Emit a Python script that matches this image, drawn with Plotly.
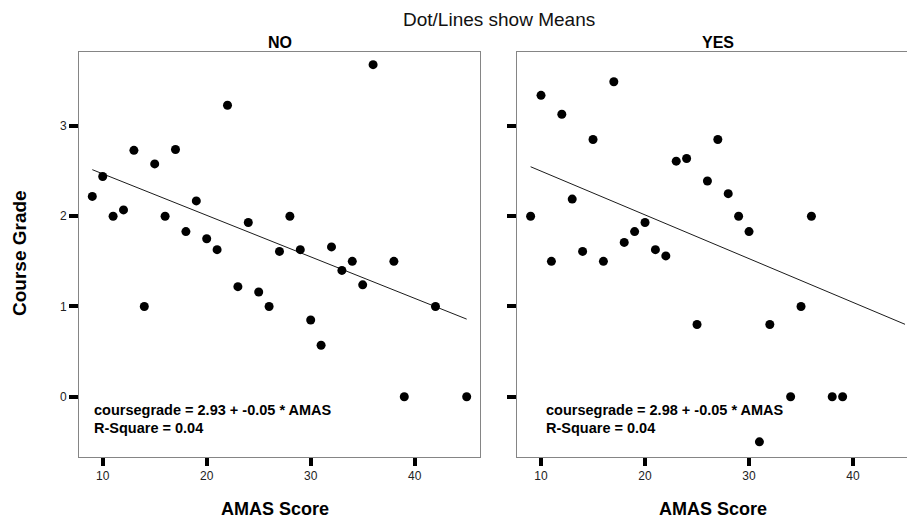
import plotly.graph_objects as go

# ---- data ----
panels = ["NO", "YES"]

no_amas = [9, 10, 11, 12, 13, 14, 15, 16, 17, 18, 19, 20, 21, 22, 23, 24, 25, 26,
           27, 28, 29, 30, 31, 32, 33, 34, 35, 36, 38, 39, 42, 45]
no_grade = [2.22, 2.44, 2.0, 2.07, 2.73, 1.0, 2.58, 2.0, 2.74, 1.83, 2.17, 1.75, 1.63,
            3.23, 1.22, 1.93, 1.16, 1.0, 1.61, 2.0, 1.63, 0.85, 0.57, 1.66, 1.40, 1.50,
            1.24, 3.68, 1.50, 0.0, 1.0, 0.0]

yes_amas = [9, 10, 11, 12, 13, 14, 15, 16, 17, 18, 19, 20, 21, 22, 23, 24, 25, 26,
            27, 28, 29, 30, 31, 32, 34, 35, 36, 38, 39]
yes_grade = [2.0, 3.34, 1.50, 3.13, 2.19, 1.61, 2.85, 1.50, 3.49, 1.71, 1.83, 1.93, 1.63,
             1.56, 2.61, 2.64, 0.80, 2.39, 2.85, 2.25, 2.0, 1.83, -0.50, 0.80, 0.0, 1.0,
             2.0, 0.0, 0.0]

fit_intercept = [2.93, 2.985]
fit_slope = [-0.046, -0.0485]
fit_x_range = [9, 45]
equation_labels = ["coursegrade = 2.93 + -0.05 * AMAS", "coursegrade = 2.98 + -0.05 * AMAS"]
rsq_labels = ["R-Square = 0.04", "R-Square = 0.04"]

y_ticks = [0, 1, 2, 3]
x_ticks = [10, 20, 30, 40]

# ---- figure ----
W, H = 907, 521
FONT = "Arial, Liberation Sans, sans-serif"

fig = go.Figure()

xs = [no_amas, yes_amas]
ys = [no_grade, yes_grade]
for i in range(2):
    xa = "x" if i == 0 else "x2"
    ya = "y" if i == 0 else "y2"
    lx = fit_x_range
    ly = [fit_intercept[i] + fit_slope[i] * v for v in lx]
    fig.add_trace(go.Scatter(
        x=lx, y=ly, mode="lines", xaxis=xa, yaxis=ya,
        line=dict(color="black", width=0.9),
        showlegend=False, hoverinfo="skip"))
    fig.add_trace(go.Scatter(
        x=xs[i], y=ys[i], mode="markers", xaxis=xa, yaxis=ya,
        marker=dict(color="black", size=9, line=dict(width=0)),
        showlegend=False, hoverinfo="x+y"))

ydom = [1 - 457 / H, 1 - 52 / H]
yrange = [-0.668, 3.82]

common_x = dict(showgrid=False, zeroline=False, showline=True, linecolor="#858585",
                linewidth=1, mirror=True, ticks="outside", ticklen=8, tickwidth=3.5,
                tickcolor="black", tickvals=x_ticks,
                tickfont=dict(family=FONT, size=12, color="#222"))
common_y = dict(showgrid=False, zeroline=False, showline=True, linecolor="#858585",
                linewidth=1, ticks="outside", ticklen=9, tickwidth=3.5,
                tickcolor="black", tickvals=y_ticks, range=yrange, domain=ydom,
                tickfont=dict(family=FONT, size=12, color="#222"))

fig.update_layout(
    width=W, height=H,
    margin=dict(l=0, r=0, t=0, b=0),
    paper_bgcolor="white", plot_bgcolor="white",
    font=dict(family=FONT, color="black"),
    xaxis=dict(common_x, domain=[79 / W, 480.3 / W], range=[7.72, 46.31], anchor="y"),
    yaxis=dict(common_y, mirror=True, anchor="x"),
    xaxis2=dict(common_x, domain=[517 / W, 1.0], range=[7.69, 45.19], anchor="y2"),
    yaxis2=dict(common_y, mirror=False, showticklabels=False, anchor="x2"),
)

annotations = [
    dict(text="Dot/Lines show Means", x=498.5 / W, y=1 - 20 / H, xref="paper", yref="paper",
         showarrow=False, font=dict(size=19, family=FONT, color="#111"),
         xanchor="center", yanchor="middle"),
    dict(text="<b>Course Grade</b>", x=20 / W, y=1 - 253 / H, xref="paper", yref="paper",
         showarrow=False, textangle=-90, font=dict(size=19, family=FONT),
         xanchor="center", yanchor="middle"),
]
panel_title_x = [279.8, 717.8]
xaxis_title_centers = [274.5, 712.8]
eq_x = [92, 544]
for i in range(2):
    annotations.append(dict(text="<b>%s</b>" % panels[i], x=panel_title_x[i] / W,
                            y=1 - 43 / H, xref="paper", yref="paper", showarrow=False,
                            font=dict(size=16, family=FONT), xanchor="center", yanchor="middle"))
    annotations.append(dict(text="<b>AMAS Score</b>", x=xaxis_title_centers[i] / W,
                            y=1 - 509 / H, xref="paper", yref="paper", showarrow=False,
                            font=dict(size=18, family=FONT), xanchor="center", yanchor="middle"))
    annotations.append(dict(text="<b>%s</b>" % equation_labels[i], x=eq_x[i] / W,
                            y=1 - 410 / H, xref="paper", yref="paper", showarrow=False,
                            font=dict(size=14.5, family=FONT), xanchor="left", yanchor="middle"))
    annotations.append(dict(text="<b>%s</b>" % rsq_labels[i], x=eq_x[i] / W,
                            y=1 - 428 / H, xref="paper", yref="paper", showarrow=False,
                            font=dict(size=14.5, family=FONT), xanchor="left", yanchor="middle"))
fig.update_layout(annotations=annotations)

fig.write_html("out.html", config={"displayModeBar": False},
               post_script="document.body.style.margin='0';document.body.style.overflow='hidden';")
